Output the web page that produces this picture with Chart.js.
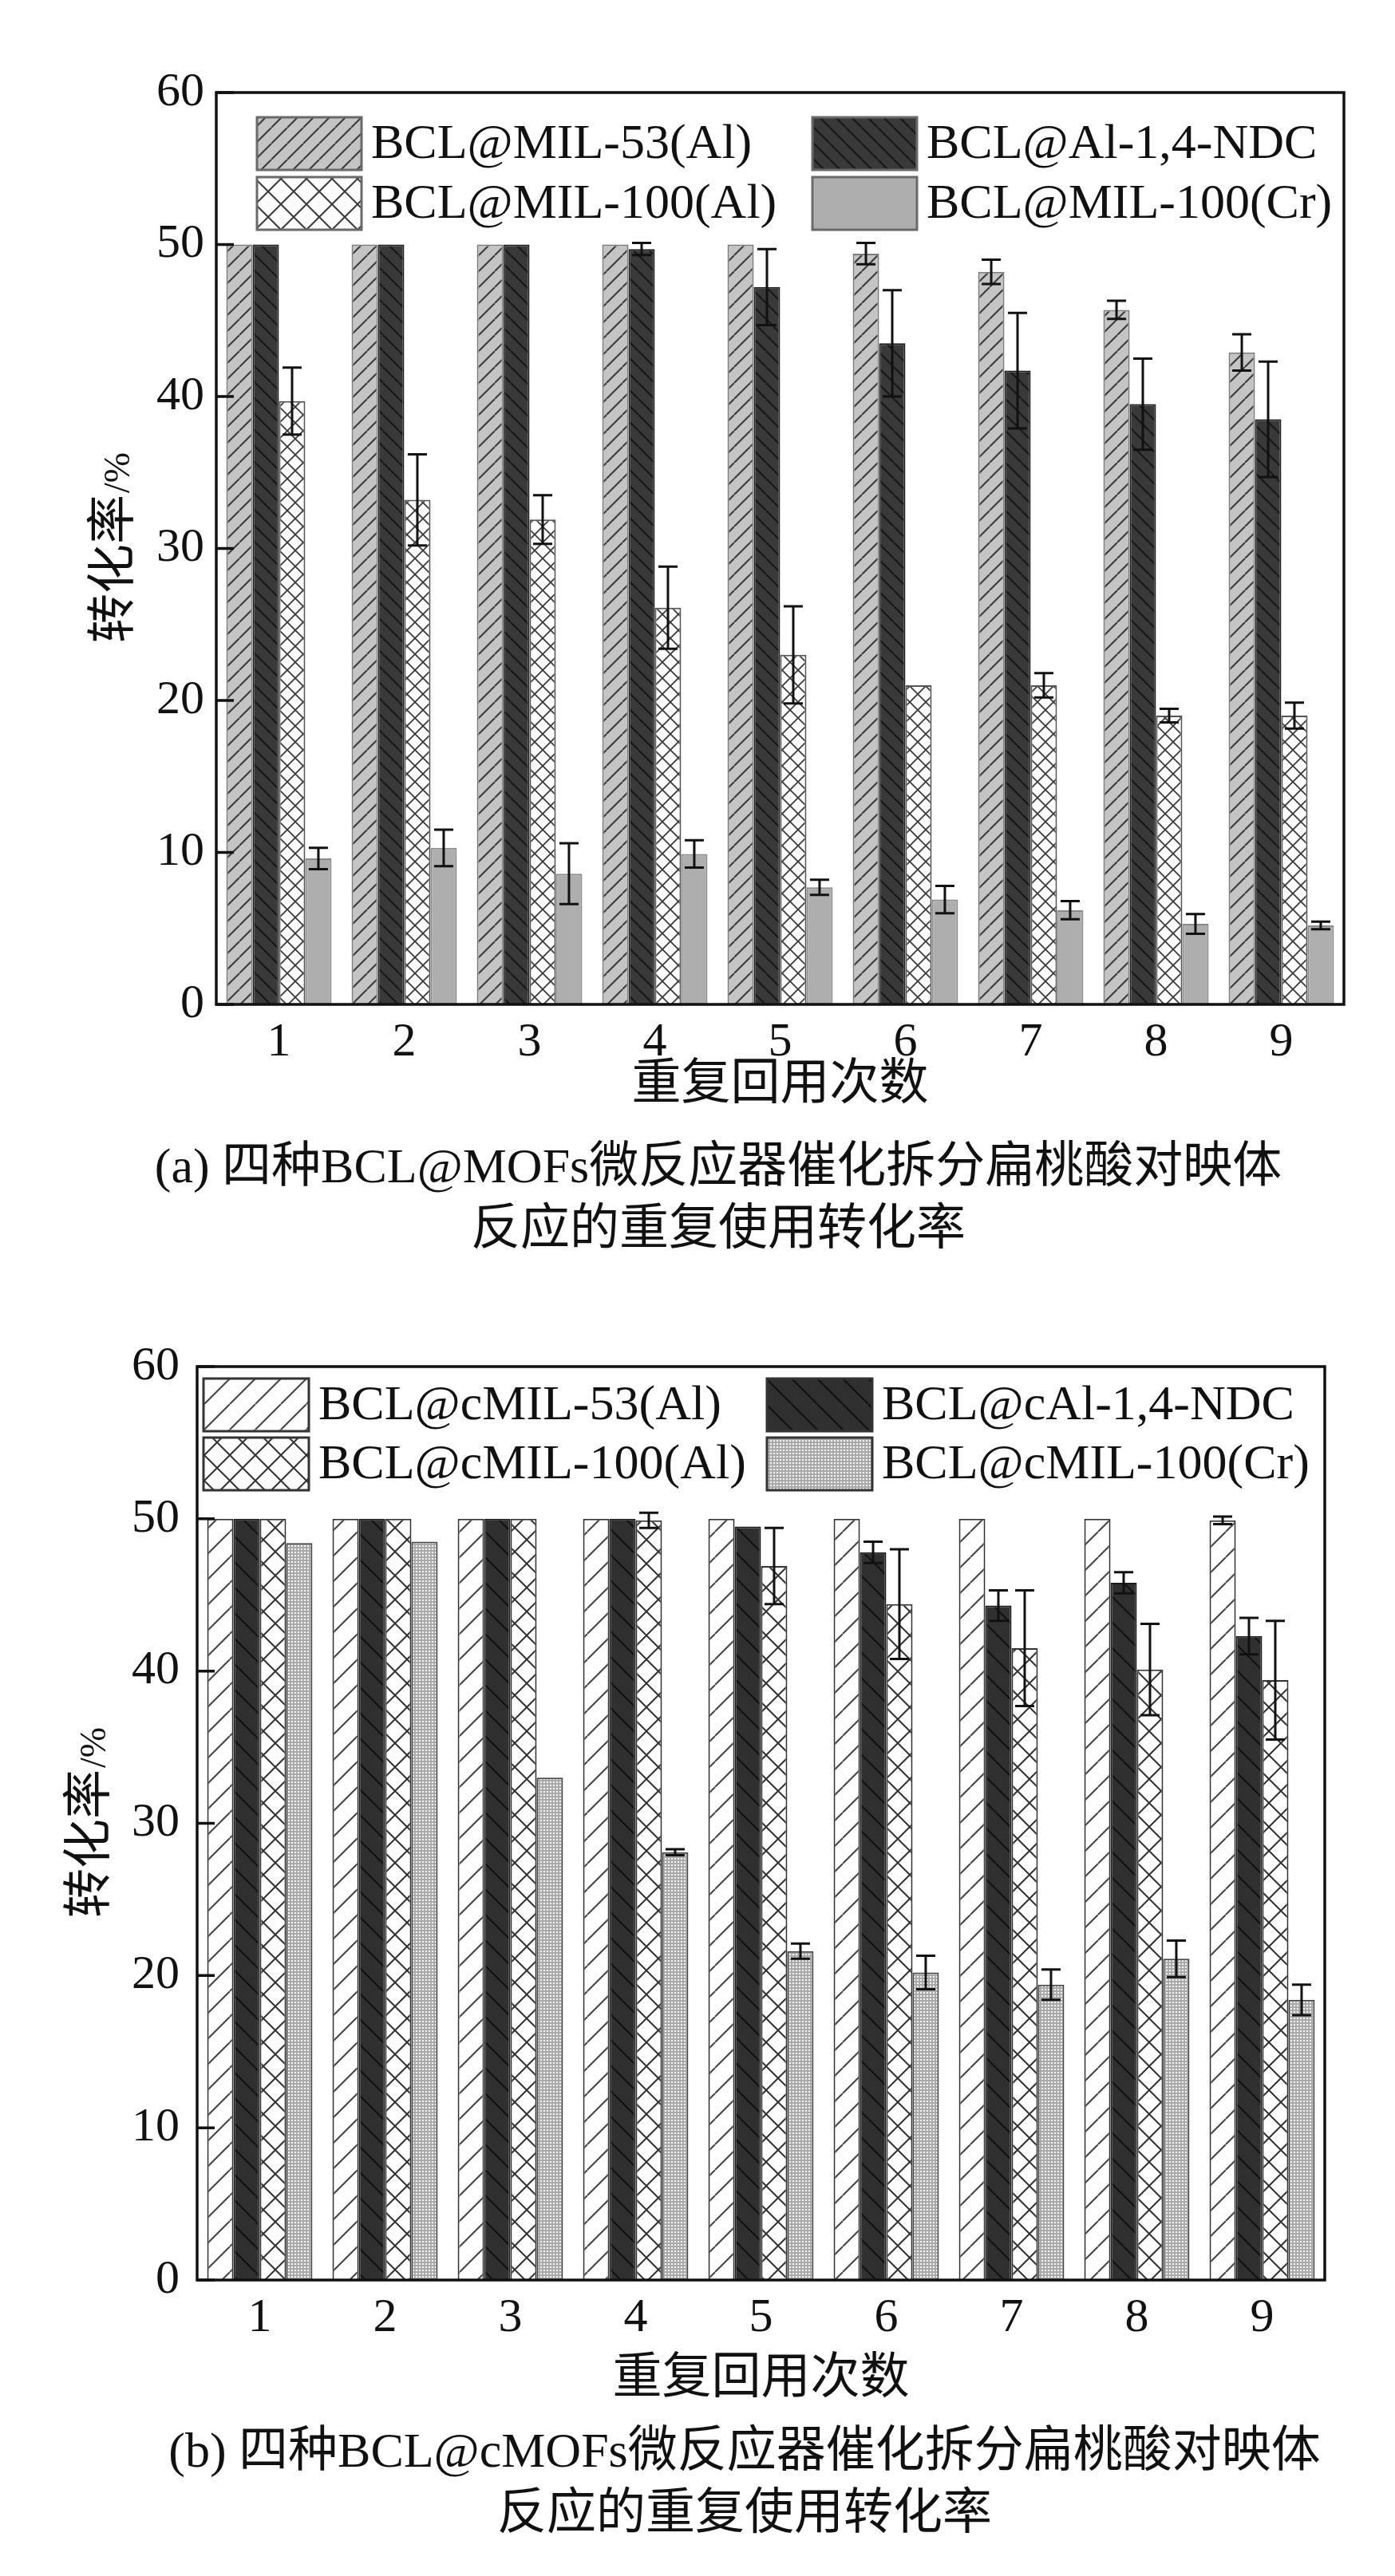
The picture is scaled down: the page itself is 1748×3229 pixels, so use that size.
<!DOCTYPE html>
<html>
<head>
<meta charset="utf-8">
<script src="https://cdn.jsdelivr.net/npm/chart.js@4.4.1/dist/chart.umd.min.js"></script>
<style>
html, body { margin: 0; padding: 0; background: #fff; }
body { width: 1748px; height: 3229px; position: relative; overflow: hidden; }
.panel { position: absolute; left: 0; }
.caption {
    position: absolute; width: 1600px; text-align: center; color: #111;
    font-family: "Liberation Serif", "Noto Sans CJK SC", serif;
    font-size: 62px; line-height: 78px; white-space: nowrap;
}
</style>
</head>
<body>
<div class="panel" style="top:0"><canvas id="chartA" width="1748" height="1400"></canvas></div>
<div class="caption" style="left:100px;top:1422px">(a) 四种BCL@MOFs微反应器催化拆分扁桃酸对映体<br>反应的重复使用转化率</div>
<div class="panel" style="top:1600px"><canvas id="chartB" width="1748" height="1420"></canvas></div>
<div class="caption" style="left:133px;top:3032px">(b) 四种BCL@cMOFs微反应器催化拆分扁桃酸对映体<br>反应的重复使用转化率</div>

<script>
// ---- data ----
const cycles = ['1', '2', '3', '4', '5', '6', '7', '8', '9'];
const yTicks = [0, 10, 20, 30, 40, 50, 60];

// (a) BCL@MOFs
const labelsA = ['BCL@MIL-53(Al)', 'BCL@Al-1,4-NDC', 'BCL@MIL-100(Al)', 'BCL@MIL-100(Cr)'];
const mil53A = [50, 50, 50, 50, 50, 49.4, 48.2, 45.7, 42.9];
const mil53AErr = [0, 0, 0, 0, 0, 0.7, 0.8, 0.6, 1.2];
const ndcA = [50, 50, 50, 49.7, 47.2, 43.5, 41.7, 39.5, 38.5];
const ndcAErr = [0, 0, 0, 0.4, 2.5, 3.5, 3.8, 3.0, 3.8];
const mil100AlA = [39.7, 33.2, 31.9, 26.1, 23.0, 21.0, 21.0, 19.0, 19.0];
const mil100AlAErr = [2.2, 3.0, 1.6, 2.7, 3.2, 0, 0.8, 0.45, 0.85];
const mil100CrA = [9.6, 10.3, 8.6, 9.9, 7.7, 6.9, 6.2, 5.3, 5.2];
const mil100CrAErr = [0.7, 1.2, 2.0, 0.9, 0.5, 0.9, 0.6, 0.65, 0.25];

// (b) BCL@cMOFs
const labelsB = ['BCL@cMIL-53(Al)', 'BCL@cAl-1,4-NDC', 'BCL@cMIL-100(Al)', 'BCL@cMIL-100(Cr)'];
const mil53B = [50, 50, 50, 50, 50, 50, 50, 50, 49.9];
const mil53BErr = [0, 0, 0, 0, 0, 0, 0, 0, 0.25];
const ndcB = [50, 50, 50, 50, 49.5, 47.8, 44.3, 45.8, 42.3];
const ndcBErr = [0, 0, 0, 0, 0, 0.7, 1.0, 0.7, 1.2];
const mil100AlB = [50, 50, 50, 49.9, 46.9, 44.4, 41.5, 40.1, 39.4];
const mil100AlBErr = [0, 0, 0, 0.5, 2.5, 3.6, 3.8, 3.0, 3.9];
const mil100CrB = [48.4, 48.5, 33.0, 28.1, 21.6, 20.2, 19.4, 21.1, 18.4];
const mil100CrBErr = [0, 0, 0, 0.2, 0.5, 1.1, 1.0, 1.2, 1.0];

const SERIF = '"Liberation Serif", "Times New Roman", serif';
const CJK = '"Noto Sans CJK SC", sans-serif';

// ---- fill patterns ----
function hatch(ctx, p, bg, fg, lw, kinds) {
    const c = document.createElement('canvas');
    c.width = c.height = p;
    const g = c.getContext('2d');
    g.fillStyle = bg;
    g.fillRect(0, 0, p, p);
    g.strokeStyle = fg;
    g.lineWidth = lw;
    g.beginPath();
    for (let k = -1; k <= 1; k++) {
        if (kinds.includes('/')) { g.moveTo(k * p, p); g.lineTo(k * p + p, 0); }
        if (kinds.includes('\\')) { g.moveTo(k * p, 0); g.lineTo(k * p + p, p); }
    }
    g.stroke();
    return ctx.createPattern(c, 'repeat');
}

function dots(ctx, bg) {
    const c = document.createElement('canvas');
    c.width = c.height = 4;
    const g = c.getContext('2d');
    g.fillStyle = bg;
    g.fillRect(0, 0, 4, 4);
    g.fillStyle = '#f4f4f4';
    g.fillRect(1, 1, 2, 2);
    return ctx.createPattern(c, 'repeat');
}

// frame, inner ticks, error bars, legend and y title
function makeDecor(cfg) {
    return {
        id: 'decor',
        afterDatasetsDraw(chart) {
            const { ctx, chartArea: a, scales: { y } } = chart;
            ctx.save();

            // error bars
            ctx.strokeStyle = '#111';
            ctx.lineWidth = 3;
            chart.data.datasets.forEach((ds, i) => {
                chart.getDatasetMeta(i).data.forEach((bar, j) => {
                    const e = ds.errors[j];
                    if (!e) return;
                    const top = y.getPixelForValue(ds.data[j] + e);
                    const bot = y.getPixelForValue(ds.data[j] - e);
                    ctx.beginPath();
                    ctx.moveTo(bar.x, top); ctx.lineTo(bar.x, bot);
                    ctx.moveTo(bar.x - 12, top); ctx.lineTo(bar.x + 12, top);
                    ctx.moveTo(bar.x - 12, bot); ctx.lineTo(bar.x + 12, bot);
                    ctx.stroke();
                });
            });

            // inward ticks + frame
            ctx.lineWidth = 3.5;
            ctx.beginPath();
            y.ticks.forEach(t => {
                const py = y.getPixelForValue(t.value);
                ctx.moveTo(a.left, py);
                ctx.lineTo(a.left + 22, py);
            });
            ctx.stroke();
            ctx.strokeRect(a.left, a.top, a.right - a.left, a.bottom - a.top);

            // legend
            const L = cfg.legend;
            ctx.font = '62px ' + SERIF;
            ctx.fillStyle = '#111';
            ctx.textBaseline = 'middle';
            ctx.textAlign = 'left';
            cfg.labels.forEach((label, i) => {
                const col = i % 2, row = Math.floor(i / 2);
                const bx = a.left + L.x[col];
                const by = a.top + L.y + row * L.rowGap;
                ctx.fillStyle = L.fills[i];
                ctx.fillRect(bx, by, L.w, L.h);
                ctx.strokeStyle = L.border;
                ctx.lineWidth = 3;
                ctx.strokeRect(bx, by, L.w, L.h);
                ctx.fillStyle = '#111';
                ctx.fillText(label, bx + L.w + 12, by + L.h / 2 + 2);
            });

            // y title: 转化率/%
            ctx.translate(cfg.titleX, (a.top + a.bottom) / 2);
            ctx.rotate(-Math.PI / 2);
            ctx.textBaseline = 'alphabetic';
            ctx.font = '62px ' + CJK;
            const w1 = ctx.measureText('转化率').width;
            ctx.font = '46px ' + SERIF;
            const w2 = ctx.measureText('/%').width;
            const x0 = -(w1 + w2) / 2;
            ctx.fillStyle = '#111';
            ctx.font = '62px ' + CJK;
            ctx.fillText('转化率', x0, 19);
            ctx.font = '46px ' + SERIF;
            ctx.fillText('/%', x0 + w1 + 2, 19);
            ctx.restore();
        }
    };
}

function buildChart(canvas, cfg) {
    return new Chart(canvas, {
        type: 'bar',
        data: {
            labels: cycles,
            datasets: cfg.series.map(s => ({
                label: s.label,
                data: s.data,
                errors: s.err,
                backgroundColor: s.fill,
                borderColor: s.border,
                borderWidth: 2
            }))
        },
        options: {
            responsive: false,
            animation: false,
            devicePixelRatio: 1,
            events: [],
            layout: { padding: { left: 0, top: cfg.top, right: cfg.right, bottom: 0 } },
            datasets: { bar: { categoryPercentage: 0.84, barPercentage: 1.0 } },
            plugins: { legend: { display: false }, tooltip: { enabled: false } },
            scales: {
                x: {
                    grid: { display: false, drawTicks: false },
                    border: { display: false },
                    ticks: { font: { family: SERIF, size: 60 }, color: '#111', padding: 12 },
                    title: {
                        display: true, text: '重复回用次数', color: '#111',
                        font: { family: CJK, size: 62 },
                        padding: { top: 0, bottom: cfg.xTitlePad }
                    },
                    afterFit(s) { s.height = cfg.xHeight; }
                },
                y: {
                    min: 0, max: 60,
                    grid: { display: false, drawTicks: false },
                    border: { display: false },
                    ticks: { font: { family: SERIF, size: 60 }, color: '#111', padding: cfg.yTickPad },
                    afterBuildTicks(s) { s.ticks = yTicks.map(v => ({ value: v })); },
                    afterFit(s) { s.width = cfg.left; }
                }
            }
        },
        plugins: [makeDecor(cfg)]
    });
}

// ---- chart (a) ----
const cA = document.getElementById('chartA');
const gA = cA.getContext('2d');
buildChart(cA, {
    top: 116, left: 271, right: 64, xHeight: 141, xTitlePad: 8, yTickPad: 15, titleX: 143,
    labels: labelsA,
    series: [
        { label: labelsA[0], data: mil53A, err: mil53AErr, fill: hatch(gA, 20, '#c4c4c4', '#3a3a3a', 2, '/'), border: '#7c7c7c' },
        { label: labelsA[1], data: ndcA, err: ndcAErr, fill: hatch(gA, 20, '#393939', '#161616', 2, '\\'), border: '#1e1e1e' },
        { label: labelsA[2], data: mil100AlA, err: mil100AlAErr, fill: hatch(gA, 20, '#ffffff', '#3a3a3a', 1.8, '/\\'), border: '#555' },
        { label: labelsA[3], data: mil100CrA, err: mil100CrAErr, fill: '#aeaeae', border: '#8a8a8a' }
    ],
    legend: {
        x: [51, 747], y: 31, rowGap: 75, w: 131, h: 66, border: '#6a6a6a',
        fills: [
            hatch(gA, 20, '#c4c4c4', '#3a3a3a', 2, '/'),
            hatch(gA, 20, '#393939', '#161616', 2, '\\'),
            hatch(gA, 32, '#ffffff', '#3a3a3a', 2, '/\\'),
            '#aeaeae'
        ]
    }
});

// ---- chart (b) ----
const cB = document.getElementById('chartB');
const gB = cB.getContext('2d');
buildChart(cB, {
    top: 113, left: 247, right: 88, xHeight: 162, xTitlePad: 6, yTickPad: 22, titleX: 113,
    labels: labelsB,
    series: [
        { label: labelsB[0], data: mil53B, err: mil53BErr, fill: hatch(gB, 32, '#ffffff', '#444', 2, '/'), border: '#333' },
        { label: labelsB[1], data: ndcB, err: ndcBErr, fill: hatch(gB, 32, '#303030', '#111', 2, '\\'), border: '#1a1a1a' },
        { label: labelsB[2], data: mil100AlB, err: mil100AlBErr, fill: hatch(gB, 30, '#ffffff', '#333', 2, '/\\'), border: '#333' },
        { label: labelsB[3], data: mil100CrB, err: mil100CrBErr, fill: dots(gB, '#a9a9a9'), border: '#444' }
    ],
    legend: {
        x: [8, 714], y: 15, rowGap: 74, w: 132, h: 66, border: '#333',
        fills: [
            hatch(gB, 32, '#ffffff', '#444', 2, '/'),
            hatch(gB, 32, '#303030', '#111', 2, '\\'),
            hatch(gB, 32, '#ffffff', '#333', 2, '/\\'),
            dots(gB, '#a9a9a9')
        ]
    }
});
</script>
</body>
</html>
